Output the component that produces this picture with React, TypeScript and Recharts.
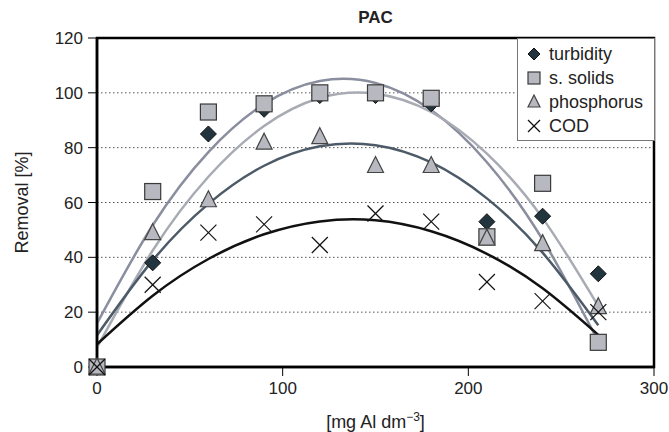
import React from "react"
import {
  ComposedChart,
  Line,
  Scatter,
  XAxis,
  YAxis,
  CartesianGrid,
  ReferenceArea,
} from "recharts"

// dose of PAC, mg Al / dm3
const doses = [0, 30, 60, 90, 120, 150, 180, 210, 240, 270]

// measured removal, %
const turbidity = [0, 38, 85, 94, 99, 99, 96, 53, 55, 34]
const sSolids = [0, 64, 93, 96, 100, 100, 98, 47.5, 67, 9]
const phosphorus = [0, 49, 61, 82, 84, 73.5, 73.5, 47, 45, 22]
const cod = [0, 30, 49, 52, 44.5, 56, 53, 31, 24, 20]

// trend lines at the same doses
const turbidityTrend = [7.1, 42.5, 69.4, 87.9, 98.1, 99.7, 93, 77.8, 54.3, 22.2]
const sSolidsTrend = [15.9, 51.7, 78.4, 95.9, 104.3, 103.6, 93.7, 74.7, 46.5, 9.3]
const phosphorusTrend = [11.6, 38.9, 59.5, 73.4, 80.5, 80.9, 74.6, 61.5, 41.7, 15.2]
const codTrend = [8.3, 26, 39.4, 48.4, 53.1, 53.5, 49.5, 41.3, 28.7, 11.7]

const xTicks = [0, 100, 200, 300]
const yTicks = [0, 20, 40, 60, 80, 100, 120]

const FONT = "'Liberation Sans', Arial, sans-serif"

const trendRows = doses.map((x, i) => ({
  x,
  tFit: turbidityTrend[i],
  sFit: sSolidsTrend[i],
  pFit: phosphorusTrend[i],
  cFit: codTrend[i],
}))

const points = (vals: number[]) => doses.map((x, i) => ({ x, y: vals[i] }))

const Diamond = ({ cx, cy, r = 8 }: any) => (
  <path
    d={`M${cx},${cy - r} L${cx + r},${cy} L${cx},${cy + r} L${cx - r},${cy} Z`}
    fill="#22343d"
    stroke="#111"
    strokeWidth={1}
  />
)

const Square = ({ cx, cy, r = 8 }: any) => (
  <rect
    x={cx - r}
    y={cy - r}
    width={r * 2}
    height={r * 2}
    fill="#b7b8c0"
    stroke="#3a3a3a"
    strokeWidth={1.2}
  />
)

const Triangle = ({ cx, cy, r = 8 }: any) => (
  <path
    d={`M${cx},${cy - r - 1} L${cx + r},${cy + r - 1} L${cx - r},${cy + r - 1} Z`}
    fill="#b7b8c0"
    stroke="#444"
    strokeWidth={1.2}
  />
)

const Cross = ({ cx, cy, r = 8 }: any) => (
  <g stroke="#111" strokeWidth={1.2}>
    <line x1={cx - r} y1={cy - r} x2={cx + r} y2={cy + r} />
    <line x1={cx - r} y1={cy + r} x2={cx + r} y2={cy - r} />
  </g>
)

const legendItems = [
  { name: "turbidity", Icon: Diamond },
  { name: "s. solids", Icon: Square },
  { name: "phosphorus", Icon: Triangle },
  { name: "COD", Icon: Cross },
]

function LegendBox() {
  return (
    <div
      style={{
        position: "absolute",
        left: 517,
        top: 38,
        boxSizing: "border-box",
        width: 138,
        height: 103,
        background: "#fff",
        border: "1px solid #777",
        padding: "3px 0 0 8px",
        fontFamily: FONT,
        fontSize: 18,
        color: "#222",
      }}
    >
      {legendItems.map(({ name, Icon }) => (
        <div
          key={name}
          style={{ display: "flex", alignItems: "center", height: 24 }}
        >
          <svg width={16} height={16} style={{ marginRight: 7 }}>
            <Icon cx={8} cy={8} r={6} />
          </svg>
          <span>{name}</span>
        </div>
      ))}
    </div>
  )
}

const XLabel = ({ viewBox }: any) => {
  const cx = viewBox.x + viewBox.width / 2
  return (
    <text
      x={cx}
      y={428}
      textAnchor="middle"
      fontFamily={FONT}
      fontSize={18}
      fill="#222"
    >
      <tspan>[mg Al dm</tspan>
      <tspan dy={-7} fontSize={12}>
        −3
      </tspan>
      <tspan dy={7}>]</tspan>
    </text>
  )
}

const YLabel = ({ viewBox }: any) => {
  const cy = viewBox.y + viewBox.height / 2
  return (
    <text
      x={22}
      y={cy}
      transform={`rotate(-90, 22, ${cy})`}
      textAnchor="middle"
      dominantBaseline="central"
      fontFamily={FONT}
      fontSize={18}
      fill="#222"
    >
      Removal [%]
    </text>
  )
}

export default function App() {
  const tickStyle = { fontFamily: FONT, fontSize: 17, fill: "#222" }

  return (
    <div
      style={{
        position: "absolute",
        left: 0,
        top: 0,
        width: 669,
        height: 432,
        background: "#fff",
      }}
    >
      <div
        style={{
          position: "absolute",
          left: 97,
          top: 8,
          width: 557,
          textAlign: "center",
          fontFamily: FONT,
          fontWeight: "bold",
          fontSize: 17,
          lineHeight: "20px",
          color: "#222",
        }}
      >
        PAC
      </div>

      <ComposedChart
        width={669}
        height={432}
        data={trendRows}
        margin={{ top: 38, right: 15, bottom: 0, left: 0 }}
      >
        <CartesianGrid
          horizontal
          vertical={false}
          stroke="#555"
          strokeDasharray="1.5 2.5"
          horizontalValues={[20, 40, 60, 80, 100]}
        />

        <XAxis
          dataKey="x"
          type="number"
          domain={[0, 300]}
          ticks={xTicks}
          height={65}
          tickSize={9}
          tickMargin={6}
          tick={tickStyle}
          axisLine={{ stroke: "#000", strokeWidth: 2.5 }}
          tickLine={{ stroke: "#000" }}
          label={<XLabel />}
        />

        <YAxis
          type="number"
          domain={[0, 120]}
          ticks={yTicks}
          width={97}
          tickSize={9}
          tickMargin={5}
          tick={tickStyle}
          axisLine={{ stroke: "#000", strokeWidth: 2.5 }}
          tickLine={{ stroke: "#000" }}
          label={<YLabel />}
        />

        <ReferenceArea
          x1={0}
          x2={300}
          y1={0}
          y2={120}
          fill="none"
          stroke="#000"
          strokeWidth={2.5}
          ifOverflow="visible"
        />

        <Scatter
          name="turbidity"
          data={points(turbidity)}
          dataKey="y"
          shape={<Diamond />}
          isAnimationActive={false}
        />
        <Scatter
          name="s. solids"
          data={points(sSolids)}
          dataKey="y"
          shape={<Square />}
          isAnimationActive={false}
        />
        <Scatter
          name="phosphorus"
          data={points(phosphorus)}
          dataKey="y"
          shape={<Triangle />}
          isAnimationActive={false}
        />
        <Scatter
          name="COD"
          data={points(cod)}
          dataKey="y"
          shape={<Cross />}
          isAnimationActive={false}
        />

        <Line
          dataKey="sFit"
          type="natural"
          stroke="#8a8e9e"
          strokeWidth={2.5}
          dot={false}
          activeDot={false}
          isAnimationActive={false}
        />
        <Line
          dataKey="tFit"
          type="natural"
          stroke="#a8abb4"
          strokeWidth={2.5}
          dot={false}
          activeDot={false}
          isAnimationActive={false}
        />
        <Line
          dataKey="pFit"
          type="natural"
          stroke="#4d5b68"
          strokeWidth={2.5}
          dot={false}
          activeDot={false}
          isAnimationActive={false}
        />
        <Line
          dataKey="cFit"
          type="natural"
          stroke="#111"
          strokeWidth={2.5}
          dot={false}
          activeDot={false}
          isAnimationActive={false}
        />
      </ComposedChart>

      <LegendBox />
    </div>
  )
}
